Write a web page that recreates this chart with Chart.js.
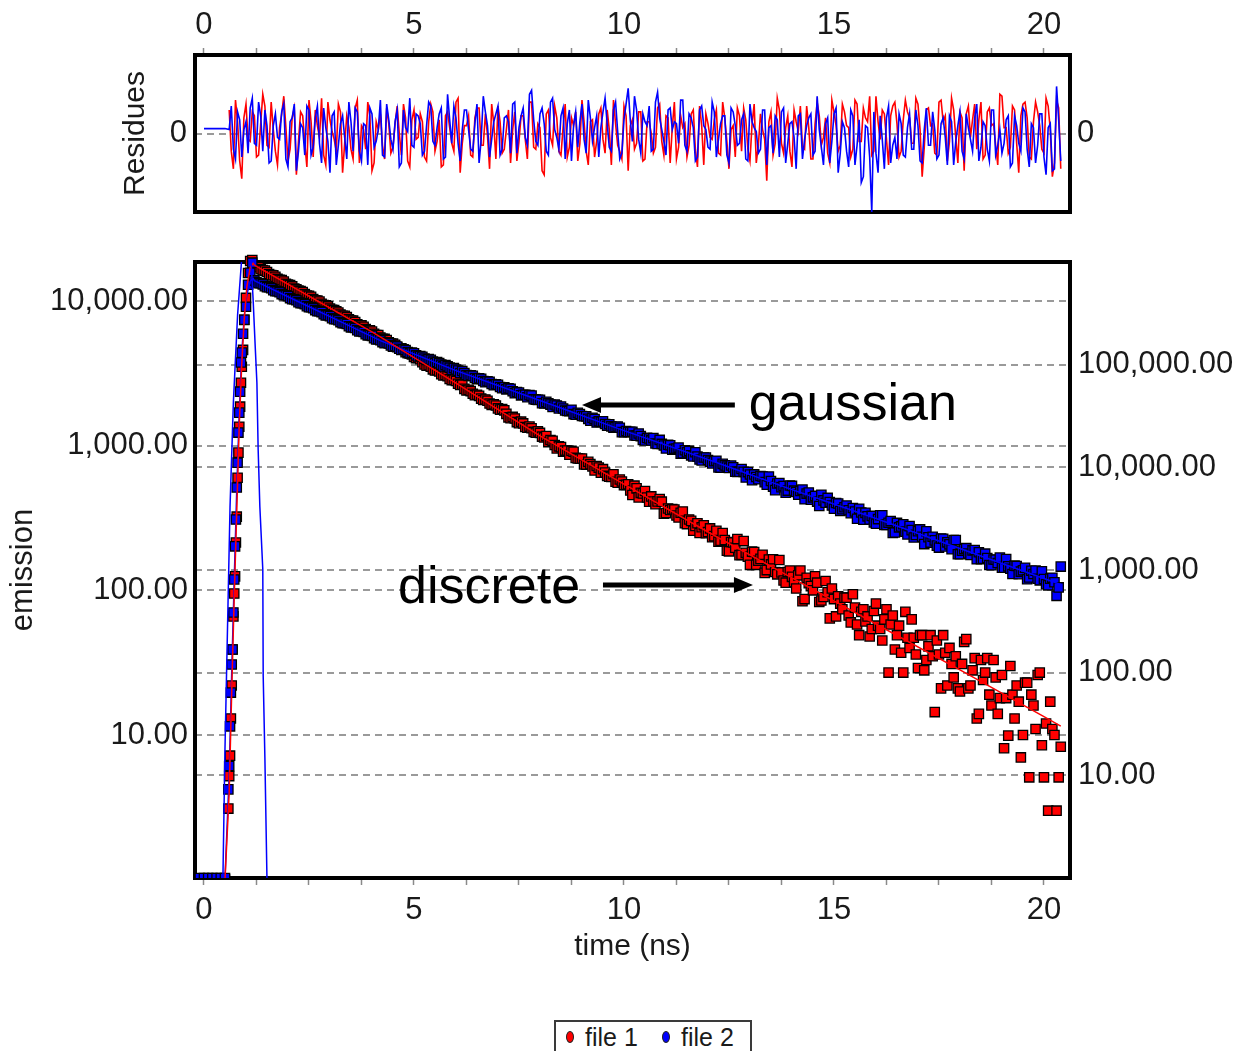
<!DOCTYPE html>
<html>
<head>
<meta charset="utf-8">
<title>emission decay</title>
<script src="https://cdn.jsdelivr.net/npm/chart.js@4.4.1/dist/chart.umd.min.js"></script>
<style>
  html, body { margin: 0; padding: 0; background: #fff; }
  body { position: relative; width: 1234px; height: 1051px; overflow: hidden; font-family: 'Liberation Sans', Arial, sans-serif; }
  canvas { position: absolute; left: 0; }
  #residCanvas { top: 0; }
  #mainCanvas { top: 230px; }
  #legend { position: absolute; left: 554px; top: 1020px; width: 194px; height: 40px; border: 2px solid #3a3a3a; background: #fff; }
  #legend .dot { position: absolute; top: 9px; width: 6px; height: 10px; border-radius: 50%; border: 1px solid #222; }
  #legend .lbl { position: absolute; top: 1px; font-size: 25px; line-height: 29px; color: #1a1a1a; white-space: nowrap; }
</style>
</head>
<body>
<canvas id="residCanvas" width="1234" height="230"></canvas>
<canvas id="mainCanvas" width="1234" height="821"></canvas>
<div id="legend"></div>
<script>
// time axis (ns)
const decayTime = [
  1.2, 1.3, 1.4, 1.5, 1.6, 1.7, 1.8, 1.9, 2.0, 2.1,
  2.2, 2.3, 2.4, 2.5, 2.6, 2.7, 2.8, 2.9, 3.0, 3.1,
  3.2, 3.3, 3.4, 3.5, 3.6, 3.7, 3.8, 3.9, 4.0, 4.1,
  4.2, 4.3, 4.4, 4.5, 4.6, 4.7, 4.8, 4.9, 5.0, 5.1,
  5.2, 5.3, 5.4, 5.5, 5.6, 5.7, 5.8, 5.9, 6.0, 6.1,
  6.2, 6.3, 6.4, 6.5, 6.6, 6.7, 6.8, 6.9, 7.0, 7.1,
  7.2, 7.3, 7.4, 7.5, 7.6, 7.7, 7.8, 7.9, 8.0, 8.1,
  8.2, 8.3, 8.4, 8.5, 8.6, 8.7, 8.8, 8.9, 9.0, 9.1,
  9.2, 9.3, 9.4, 9.5, 9.6, 9.7, 9.8, 9.9, 10.0, 10.1,
  10.2, 10.3, 10.4, 10.5, 10.6, 10.7, 10.8, 10.9, 11.0, 11.1,
  11.2, 11.3, 11.4, 11.5, 11.6, 11.7, 11.8, 11.9, 12.0, 12.1,
  12.2, 12.3, 12.4, 12.5, 12.6, 12.7, 12.8, 12.9, 13.0, 13.1,
  13.2, 13.3, 13.4, 13.5, 13.6, 13.7, 13.8, 13.9, 14.0, 14.1,
  14.2, 14.3, 14.4, 14.5, 14.6, 14.7, 14.8, 14.9, 15.0, 15.1,
  15.2, 15.3, 15.4, 15.5, 15.6, 15.7, 15.8, 15.9, 16.0, 16.1,
  16.2, 16.3, 16.4, 16.5, 16.6, 16.7, 16.8, 16.9, 17.0, 17.1,
  17.2, 17.3, 17.4, 17.5, 17.6, 17.7, 17.8, 17.9, 18.0, 18.1,
  18.2, 18.3, 18.4, 18.5, 18.6, 18.7, 18.8, 18.9, 19.0, 19.1,
  19.2, 19.3, 19.4, 19.5, 19.6, 19.7, 19.8, 19.9, 20.0, 20.1,
  20.2, 20.3, 20.4
];
// in-between channels
const midTime = [
  1.25, 1.35, 1.45, 1.55, 1.65, 1.75, 1.85, 1.95, 2.05, 2.15,
  2.25, 2.35, 2.45, 2.55, 2.65, 2.75, 2.85, 2.95, 3.05, 3.15,
  3.25, 3.35, 3.45, 3.55, 3.65, 3.75, 3.85, 3.95, 4.05, 4.15,
  4.25, 4.35, 4.45, 4.55, 4.65, 4.75, 4.85, 4.95, 5.05, 5.15,
  5.25, 5.35, 5.45, 5.55, 5.65, 5.75, 5.85, 5.95, 6.05, 6.15,
  6.25, 6.35, 6.45, 6.55, 6.65, 6.75, 6.85, 6.95, 7.05, 7.15,
  7.25, 7.35, 7.45, 7.55, 7.65, 7.75, 7.85, 7.95, 8.05, 8.15,
  8.25, 8.35, 8.45, 8.55, 8.65, 8.75, 8.85, 8.95, 9.05, 9.15,
  9.25, 9.35, 9.45, 9.55, 9.65, 9.75, 9.85, 9.95, 10.05, 10.15,
  10.25, 10.35, 10.45, 10.55, 10.65, 10.75, 10.85, 10.95, 11.05, 11.15,
  11.25, 11.35, 11.45, 11.55, 11.65, 11.75, 11.85, 11.95, 12.05, 12.15,
  12.25, 12.35, 12.45, 12.55, 12.65, 12.75, 12.85, 12.95, 13.05, 13.15,
  13.25, 13.35, 13.45, 13.55, 13.65, 13.75, 13.85, 13.95, 14.05, 14.15,
  14.25, 14.35, 14.45, 14.55, 14.65, 14.75, 14.85, 14.95, 15.05, 15.15,
  15.25, 15.35, 15.45, 15.55, 15.65, 15.75, 15.85, 15.95, 16.05, 16.15,
  16.25, 16.35, 16.45, 16.55, 16.65, 16.75, 16.85, 16.95, 17.05, 17.15,
  17.25, 17.35, 17.45, 17.55, 17.65, 17.75, 17.85, 17.95, 18.05, 18.15,
  18.25, 18.35, 18.45, 18.55, 18.65, 18.75, 18.85, 18.95, 19.05, 19.15,
  19.25, 19.35, 19.45, 19.55, 19.65, 19.75, 19.85, 19.95, 20.05, 20.15,
  20.25, 20.35
];
const baseTime = [-0.1, 0.0, 0.1, 0.2, 0.3, 0.4, 0.5];
const riseTime = [0.58, 0.60, 0.62, 0.64, 0.66, 0.68, 0.70, 0.72, 0.74, 0.76, 0.78, 0.80,
  0.82, 0.84, 0.86, 0.88, 0.90, 0.93, 0.96, 1.00, 1.05, 1.10, 1.15];

// counts before the pulse (sit on the bottom of the plot)
const baseCounts = [1, 1, 1, 1, 1, 1, 1];

// file 1 (discrete, red, left axis)
const file1Rise = [3.1, 5.2, 7.2, 13, 22, 39, 66, 95, 125, 214, 323, 600,
  895, 1350, 1860, 2720, 3510, 4590, 7400, 10500, 15600, 18900, 19200];
const file1Decay = [
  17650, 17120, 16330, 15860, 15110, 14700, 14010, 13620, 12970, 12610,
  12050, 11730, 11150, 10860, 10310, 10080, 9560, 9330, 8860, 8640,
  8330, 7910, 7730, 7330, 7160, 6790, 6640, 6280, 6150, 5820,
  5590, 5470, 5170, 5070, 4790, 4700, 4430, 4360, 4100, 4040,
  3780, 3570, 3510, 3310, 3260, 3060, 3020, 2840, 2800, 2630,
  2470, 2430, 2285, 2250, 2115, 2085, 1955, 1930, 1810, 1790,
  1660, 1550, 1540, 1430, 1425, 1330, 1320, 1230, 1225, 1140,
  1059, 1081, 957, 977, 925, 866, 908, 816, 815, 740,
  745, 674, 705, 688, 618, 609, 563, 584, 534, 541,
  456, 507, 472, 486, 410, 411, 412, 410, 342, 359,
  362, 319, 351, 287, 302, 279, 249, 282, 253, 233,
  258, 220, 223, 186, 214, 226, 176, 182, 150, 184,
  160, 176, 138, 151, 134, 162, 117, 134, 124, 103,
  137, 87, 112, 100, 113, 85, 116, 64, 87, 91,
  74, 89, 60, 76, 49, 74, 66, 54, 81, 54,
  63, 27, 67, 49, 37, 71, 40, 47, 29, 49,
  33, 49, 14.4, 36, 49, 22, 31, 35, 20, 44,
  21, 28, 13, 33, 27, 19, 33, 14, 26, 18,
  30, 13, 17, 10, 23, 19, 11, 27, 5.1, 3.0,
  11, 3.0, 8.3
];
const file1Mid = [
  17480, 16560, 16230, 15330, 15040, 14210, 13940, 13160, 12910, 12200,
  11790, 11530, 10920, 10690, 10110, 9900, 9370, 9170, 8680, 8500,
  8060, 7890, 7460, 7310, 6910, 6780, 6400, 6280, 5930, 5810,
  5470, 5370, 5070, 4980, 4690, 4610, 4350, 4270, 4030, 3960,
  3640, 3590, 3370, 3320, 3120, 3080, 2890, 2850, 2680, 2640,
  2410, 2380, 2230, 2210, 2070, 2045, 1915, 1895, 1775, 1755,
  1570, 1580, 1455, 1465, 1345, 1355, 1245, 1255, 1155, 1165,
  1094, 1010, 989, 907, 926, 920, 823, 812, 742, 773,
  719, 724, 650, 652, 610, 634, 554, 565, 536, 490,
  529, 439, 468, 438, 446, 394, 428, 339, 368, 364,
  329, 344, 291, 309, 258, 291, 273, 248, 268, 237,
  217, 249, 188, 216, 197, 175, 219, 171, 185, 150,
  165, 132, 163, 164, 129, 133, 113, 137, 114, 127,
  84, 122, 107, 125, 83, 90, 97, 103, 66, 81,
  89, 67, 94, 58, 71, 61, 48, 72, 57, 45,
  74, 58, 39, 57, 27, 47, 63, 36, 49, 28,
  41, 35, 45, 21, 37, 40, 25, 21, 31, 46,
  22, 34, 14, 24, 34, 16, 25, 18, 8.1, 9.9,
  19, 22, 7.0, 23, 5.1, 16, 26, 8.5, 12, 17,
  10, 5.1
];

// file 2 (gaussian, blue, right axis)
const file2Rise = [7.3, 12.3, 30, 64, 120, 168, 386, 809, 1700, 3100, 6360, 11100,
  21800, 34100, 54600, 105000, 131000, 200000, 274000, 367000, 600000, 786000, 985000];
const file2Decay = [
  662000, 621000, 606000, 569000, 555000, 519000, 508000, 475000, 465000, 434000,
  424000, 396000, 388000, 362000, 355000, 331000, 325000, 302000, 297000, 277000,
  271000, 253000, 249000, 231000, 228000, 211000, 208000, 193000, 191000, 176000,
  173000, 162000, 161000, 150000, 150000, 139000, 139000, 129000, 129000, 120000,
  119500, 111500, 111500, 103500, 103500, 96200, 96500, 89300, 89800, 83000,
  83000, 77500, 77800, 72400, 72800, 67600, 68200, 63200, 63800, 59100,
  57490, 58270, 52720, 53430, 50950, 48190, 49930, 45680, 45530, 42020,
  42120, 38750, 40040, 39150, 35810, 35300, 33030, 33940, 31650, 31380,
  28480, 29500, 28050, 28040, 25440, 25080, 24730, 24310, 21940, 22110,
  22240, 20350, 20150, 18270, 19110, 19270, 16920, 16900, 15260, 16410,
  15160, 15570, 13730, 14040, 13090, 14010, 11910, 12460, 11780, 10930,
  11590, 9947, 10450, 9881, 10010, 9035, 9625, 7962, 8520, 8532,
  7649, 8150, 6769, 7369, 5996, 7039, 6576, 5937, 6592, 5750,
  5877, 4883, 5692, 5104, 4638, 5406, 4523, 4592, 3949, 4447,
  3905, 4248, 3578, 3709, 3953, 3086, 3334, 3362, 2825, 3410,
  2742, 2882, 2297, 2876, 2657, 2365, 2676, 2075, 2390, 2109,
  2386, 1850, 1944, 1653, 2013, 1859, 1596, 1961, 1426, 1598,
  1449, 1551, 1271, 1276, 1443, 1119, 1266, 1169, 1051, 1280,
  1029, 1102, 911, 994, 814, 983, 986, 793, 818, 709,
  840, 560, 1080
];
const file2Mid = [
  637000, 621000, 582000, 568000, 532000, 519000, 487000, 475000, 445000, 434000,
  406000, 397000, 371000, 363000, 340000, 332000, 310000, 303000, 284000, 277000,
  260000, 254000, 237000, 232000, 217000, 212000, 198000, 194000, 181000, 177000,
  166000, 164000, 154000, 152000, 143000, 141000, 133000, 131000, 123000, 121500,
  114500, 113500, 107000, 106000, 100000, 99200, 93500, 92700, 87500, 86700,
  79300, 78800, 74100, 73700, 69300, 68900, 64800, 64400, 60600, 60200,
  58930, 55120, 54040, 50270, 50940, 50500, 46070, 45430, 42140, 43420,
  40840, 40930, 37460, 37440, 35410, 36380, 32560, 33000, 31470, 29690,
  30340, 27300, 27750, 26460, 26300, 24400, 25000, 22010, 22560, 22120,
  20410, 21350, 18490, 19340, 18290, 17050, 18500, 16320, 16610, 14850,
  15260, 13580, 14670, 14450, 12750, 12740, 11660, 12480, 11370, 11470,
  9975, 10820, 10190, 10410, 9060, 9050, 9041, 8989, 7505, 8051,
  8231, 7176, 8138, 6486, 6960, 6414, 5672, 6656, 5927, 5424,
  6066, 5552, 4842, 5267, 4200, 4760, 5037, 4244, 4491, 3756,
  4087, 3818, 4014, 3155, 3627, 3606, 3102, 2899, 3132, 3415,
  2747, 2995, 2323, 2603, 2787, 2222, 2445, 2197, 2485, 1789,
  2082, 2108, 1728, 2028, 1693, 1779, 1957, 1423, 1538, 1631,
  1399, 1568, 1489, 1290, 1307, 1111, 1257, 1320, 1053, 1086,
  915, 1094, 965, 1052, 846, 914, 822, 973, 728, 823,
  760, 677
];

// fitted curves
const fit1Time = [0.50, 0.60, 0.66, 0.72, 0.78, 0.84, 0.90, 0.96, 1.02, 1.10, 1.17, 1.2,
  4.0, 6.0, 8.0, 10.0, 12.0, 14.0, 16.0, 18.0, 20.0, 20.4];
const fit1Counts = [1, 4, 20, 90, 350, 1400, 3700, 7600, 12500, 17000, 18200, 17700,
  6110, 2710, 1167, 543, 253, 122, 58.5, 28.2, 13.4, 11.5];
const fit2Time = [0.50, 0.60, 0.66, 0.72, 0.78, 0.84, 0.90, 0.96, 1.02, 1.10, 1.17, 1.2,
  2.2, 3.2, 4.2, 6.0, 8.0, 10.0, 12.0, 14.0, 16.0, 18.0, 20.0, 20.4];
const fit2Counts = [1, 10, 100, 800, 6000, 34000, 130000, 300000, 480000, 650000, 690000, 657700,
  419800, 268500, 171400, 87500, 44700, 22800, 11900, 6070, 3170, 1620, 826, 723];

// instrument response (thin blue pulse)
const irfTime = [0.45, 0.50, 0.55, 0.62, 0.70, 0.80, 0.90, 0.98, 1.10, 1.17, 1.22, 1.26,
  1.29, 1.33, 1.40, 1.41, 1.45, 1.50];
const irfCounts = [1, 8, 40, 377, 2000, 8000, 20000, 30000, 25000, 10200, 4820, 2720,
  938, 380, 140, 25.5, 7.0, 1];

// residues
const residTime = [0.0, 0.5, 0.6, 0.7, 0.8, 0.9, 1.0, 1.1].concat(decayTime);
const residMidTime = [0.65, 0.75, 0.85, 0.95, 1.05, 1.15].concat(midTime);
const resid1 = [null, null,
  1.2, -1.8, 0.6, -2.3, 1.5, -0.4, 0.9, -1.1, 2.0, -0.6,
  1.6, -0.9, 0.3, 1.9, -1.4, 0.8, -2.1, 1.1, -0.5, 1.7,
  -1.2, 0.4, 1.8, -1.6, 0.7, -0.3, 1.5, -2.0, 0.9, -0.8,
  1.3, -1.5, 0.2, 1.6, -1.9, 0.6, 1.0, -1.3, 0.5, -0.7,
  1.4, -1.1, 0.8, -1.7, 1.2, -0.2, 0.6, -1.4, 1.5, -0.9,
  0.7, -1.6, 1.1, -0.5, 1.6, -2.0, 0.4, 0.9, -1.2, 1.3,
  -0.6, 1.0, -1.8, 0.5, 1.4, -1.0, 0.2, -1.5, 1.1, -0.4,
  0.9, -1.3, 1.6, -0.8, 0.3, -2.1, 1.2, -0.6, 0.8, -1.1,
  1.5, -0.7, 0.4, -1.4, 1.7, -0.9, 0.6, -1.2, 1.0, -0.3,
  1.2, -1.6, 0.5, -0.9, 1.4, -1.9, 0.7, -0.5, 1.1, -1.3,
  0.6, -1.0, 1.3, -0.4, 0.9, -1.5, 1.6, -0.7, 0.3, -1.2,
  1.0, -0.8, 1.4, -1.6, 0.5, -0.3, 1.2, -1.1, 0.8, -1.8,
  0.4, 1.3, -0.9, 0.7, -1.4, 1.5, -0.6, 0.2, -2.4, 1.1,
  -0.5, 1.2, -1.0, 0.9, -1.7, 0.6, 1.4, -0.8, 0.3, -1.3,
  1.6, -0.6, 0.8, -1.5, 1.1, -0.9, 1.5, 0.4, -1.2, 1.7,
  -0.4, 1.3, 0.6, -1.1, 1.9, -0.3, 1.0, -1.6, 1.4, 0.5,
  -0.9, 1.7, 0.8, -0.5, 1.5, -2.2, 1.2, 0.4, -1.0, 1.6,
  0.6, -1.4, 1.8, -0.2, 1.1, -1.9, 1.4, 0.7, -0.8, 1.6,
  -1.1, 1.3, 0.5, -1.6, 1.9, 0.3, -0.7, 1.2, -2.0, 1.5,
  0.8, -1.3, 1.6, 0.4, -1.0, 1.4, -2.2, 1.7, -1.8
];
const resid1Mid = [
  -0.9, 1.7, -1.4, 0.8, -0.3, 1.1,
  -1.2, 0.5, 1.4, -0.7, 0.2, -1.6, 1.0, 0.3, -0.8, 1.3,
  -0.4, 0.9, -1.7, 0.6, 1.2, -0.2, -1.1, 1.6, 0.1, -0.9,
  1.1, -0.5, 0.3, -1.3, 1.7, 0.4, -0.8, 0.9, -1.5, 0.2,
  -0.6, 1.3, -1.0, 0.5, 0.0, 1.5, -1.4, 0.7, -0.3, 1.0,
  -1.2, 0.6, 1.1, -0.4, -1.7, 0.9, 0.3, -0.9, 1.8, -0.5,
  0.4, -1.1, 0.8, 1.3, -0.6, -0.1, 1.5, -1.3, 0.6, -0.8,
  1.2, 0.2, -1.4, 0.9, -0.3, 1.6, -0.7, 0.5, -1.9, 1.0,
  -0.2, 1.4, -0.9, 0.3, -1.2, 0.8, 1.1, -0.5, 0.6, -1.6,
  0.7, -0.4, 1.3, -1.0, 0.2, 1.7, -0.6, -1.3, 0.9, 0.4,
  -0.8, 1.1, -1.4, 0.6, 0.0, -0.7, 1.5, -1.1, 0.8, 0.3,
  -1.3, 0.9, 0.5, -0.6, 1.2, -1.7, 0.4, 1.0, -0.2, 0.7,
  -1.0, 1.6, -0.4, 0.2, -1.2, 0.9, 1.3, -0.8, 0.5, -1.5,
  1.0, -0.3, 0.6, -1.1, 1.8, -0.5, 0.3, -0.9, 1.2, 0.1,
  -0.7, 1.4, -1.3, 0.5, 0.9, -0.2, -1.0, 1.7, 0.4, -0.6,
  1.1, 0.3, -0.8, 1.5, -0.4, 0.8, 1.9, -0.9, 0.6, 1.2,
  -0.3, 0.9, 1.6, -1.2, 0.7, 1.1, -0.5, 1.8, 0.2, -0.7,
  1.3, 0.5, -1.1, 1.7, 0.9, -0.4, 1.2, -1.5, 0.8, 1.0,
  -0.2, 1.5, 0.7, -1.3, 1.1, 0.4, -0.6, 2.0, 0.3, -1.0,
  1.4, -0.5, 0.9, 1.6, -1.2, 0.6, 1.1, -0.8, 1.8, 0.2,
  -1.5, 1.3
];
const resid2 = [0.25, 0.25,
  0.2, -0.8, 1.1, -1.2, 0.6, 1.3, -0.5, 1.6, -0.9, 0.4,
  -1.4, 1.0, -0.3, 1.5, -1.7, 0.8, -1.9, 0.5, -1.1, 1.2,
  -0.7, 1.4, -1.5, 0.3, -2.0, 1.1, -0.6, 0.9, -1.3, 0.6,
  1.3, -0.9, 0.5, -1.6, 1.0, -0.4, 1.7, -1.2, 0.7, -0.8,
  1.2, -1.5, 0.3, 1.8, -0.7, 0.9, -1.1, 0.4, 1.4, -0.6,
  1.0, -1.3, 2.0, -0.5, 0.8, -1.4, 1.2, 0.2, -0.9, 1.5,
  -0.3, 1.1, -1.2, 0.6, 1.4, -0.8, 0.9, -1.0, 1.6, 0.3,
  1.3, -0.6, 2.2, -0.4, 1.0, 0.5, -1.1, 1.8, -0.2, 0.9,
  -1.3, 1.2, 0.4, -0.7, 1.5, -1.0, 0.8, 0.3, -1.2, 1.1,
  0.5, -0.9, 1.6, -1.3, 0.7, 2.3, -0.4, 1.2, -1.0, 0.6,
  1.4, -0.8, 2.1, 0.2, -1.1, 1.3, 0.6, -0.5, 1.7, -0.9,
  0.8, -1.4, 1.2, 0.4, -0.7, 1.6, -1.2, 0.5, 0.9, -1.5,
  1.1, -0.6, 0.7, -1.3, 1.5, 0.3, -1.0, 1.2, -1.6, 0.4,
  0.9, -1.2, 1.3, -0.5, 0.6, -1.8, 1.0, -0.3, 0.8, -1.1,
  1.9, -0.7, 0.5, -1.5, 1.0, -2.0, 0.6, -0.9, 1.2, -1.6,
  0.7, -2.2, 0.3, -4.0, -1.0, 0.9, -1.8, 1.4, -0.6, -1.3,
  0.5, -1.2, 1.0, -0.8, 0.4, -1.5, 1.3, -0.6, 0.2, -1.1,
  0.8, -1.6, 0.6, -0.4, 1.1, -1.3, 0.3, -0.9, 1.5, -0.7,
  0.4, -1.4, 1.2, -0.6, -1.0, 0.7, -1.7, 0.9, -0.5, 1.3,
  -0.8, 0.5, -1.5, 1.0, -1.2, 0.3, -1.9, 2.4, -1.4
];
const resid2Mid = [
  1.4, -1.3, 0.7, 0.2, -1.0, 1.8,
  -0.6, 0.9, 1.2, -1.5, 0.4, -0.2, 1.1, -1.3, 0.6, 1.5,
  -0.9, 0.3, 1.4, -1.1, 0.8, -0.5, 1.3, -0.4, 0.9, -1.6,
  0.5, -0.2, 1.6, -0.9, 1.1, -1.4, 0.4, 1.3, -0.7, 0.2,
  -1.1, 1.5, -0.3, 0.6, -1.7, 1.2, 0.1, -0.6, 1.0, 0.5,
  -0.9, 1.6, -0.4, 0.3, 1.3, -1.2, 0.7, 1.4, -0.5, 0.2,
  1.2, -0.8, 0.5, -1.5, 1.9, 0.4, -0.3, 1.0, -1.1, 0.8,
  0.6, 1.5, -1.0, 0.9, -0.2, 2.0, 0.7, -0.6, 1.3, -0.9,
  1.6, 0.2, -0.8, 1.3, 0.5, -1.4, 1.1, 0.6, -0.3, 1.7,
  -0.4, 0.9, 0.3, 1.8, -0.7, 1.2, 0.1, -1.0, 1.5, 0.7,
  1.9, -0.3, 1.0, 0.4, -0.9, 1.6, 0.8, -0.4, 1.2, 0.2,
  0.5, 1.7, -0.6, 1.0, 0.3, -1.2, 1.4, 0.2, -0.8, 1.1,
  -0.3, 0.9, -1.1, 1.3, 0.4, -0.5, 1.0, -1.4, 0.6, 0.1,
  -0.8, 1.2, 0.3, -1.0, 0.7, 1.1, -1.5, 0.5, -0.2, 0.9,
  -1.3, 0.4, 1.0, -0.9, 0.2, -1.6, 0.8, -0.4, 1.3, -1.0,
  0.3, -1.7, 0.9, -0.6, -2.5, 0.4, -1.2, 1.1, -2.0, -0.3,
  0.8, -1.5, -0.2, 1.0, -1.1, 0.3, -0.8, 1.2, -1.4, 0.2,
  -0.6, 1.1, -1.3, 0.5, -0.2, 0.9, -1.6, 0.4, -0.9, 1.0,
  -0.3, 0.8, -1.4, 0.6, -0.8, 1.2, -1.1, 0.2, -0.5, 0.9,
  -1.5, 0.4, -0.9, 1.1, -1.7, 0.3, -0.6, 1.0, -2.1, 0.5,
  -1.8, 0.7
];

// ticks
const timeTicks = [0, 1.25, 2.5, 3.75, 5, 6.25, 7.5, 8.75, 10, 11.25, 12.5, 13.75, 15, 16.25, 17.5, 18.75, 20];
const leftTicks = [10, 100, 1000, 10000];
const rightTicks = [10, 100, 1000, 10000, 100000];
const residTicks = [0];

// arrows + notes, in data units of the left axis
const callouts = [
  { text: 'gaussian', at: [12.97, 1504], from: [12.64, 1910], to: [9.0, 1910] },
  { text: 'discrete', at: [4.62, 81.8], from: [9.5, 108.9], to: [13.07, 108.9] }
];

const FONT = "'Liberation Sans', Arial, sans-serif";
const TEXT = '#1a1a1a';
Chart.defaults.font.family = FONT;

const pairs = (xs, ys) => xs.map((x, i) => ({ x: x, y: ys[i] })).filter(p => p.y != null);
const byTime = (a, b) => a.x - b.x;
const fmt2 = v => {
  const parts = Number(v).toFixed(2).split('.');
  return parts[0].replace(/\B(?=(\d{3})+(?!\d))/g, ',') + '.' + parts[1];
};
const setTicks = list => scale => { scale.ticks = list.map(v => ({ value: v })); };
// fixed axis thickness, no extra edge padding asked from the layout
const fixWidth = w => s => { s.width = w; s.paddingTop = 0; s.paddingBottom = 0; };
const fixHeight = h => s => { s.height = h; s.paddingLeft = 0; s.paddingRight = 0; };

const frameBox = {
  id: 'frameBox',
  beforeDatasetsDraw(chart) {
    const { ctx, chartArea: a } = chart;
    ctx.save();
    ctx.lineWidth = 4;
    ctx.strokeStyle = '#000';
    ctx.strokeRect(a.left, a.top, a.right - a.left, a.bottom - a.top);
    ctx.restore();
  }
};

const calloutPlugin = {
  id: 'callouts',
  afterDatasetsDraw(chart) {
    const { ctx } = chart;
    const x = chart.scales.x, y = chart.scales.y;
    ctx.save();
    ctx.fillStyle = '#000';
    ctx.strokeStyle = '#000';
    ctx.font = '52px ' + FONT;
    ctx.textBaseline = 'alphabetic';
    callouts.forEach(c => {
      ctx.fillText(c.text, x.getPixelForValue(c.at[0]), y.getPixelForValue(c.at[1]));
      const x1 = x.getPixelForValue(c.from[0]), y1 = y.getPixelForValue(c.from[1]);
      const x2 = x.getPixelForValue(c.to[0]), y2 = y.getPixelForValue(c.to[1]);
      const dir = Math.sign(x2 - x1);
      ctx.lineWidth = 5;
      ctx.beginPath();
      ctx.moveTo(x1, y1);
      ctx.lineTo(x2 - dir * 16, y2);
      ctx.stroke();
      ctx.beginPath();
      ctx.moveTo(x2, y2);
      ctx.lineTo(x2 - dir * 19, y2 - 8);
      ctx.lineTo(x2 - dir * 19, y2 + 8);
      ctx.closePath();
      ctx.fill();
    });
    ctx.restore();
  }
};

const X_MIN = -0.214, X_MAX = 20.62;
const tickFont = { size: 31 };
const titleFont = { size: 30 };

const timeAxis = (position, height, padding) => ({
  type: 'linear',
  position: position,
  min: X_MIN,
  max: X_MAX,
  afterFit: fixHeight(height),
  afterBuildTicks: setTicks(timeTicks),
  ticks: {
    callback: v => (v % 5 === 0 ? String(v) : ''),
    font: tickFont, color: TEXT, padding: padding, autoSkip: false, maxRotation: 0
  },
  grid: { drawOnChartArea: false, drawTicks: true, tickLength: 7, tickColor: '#8a8a8a', tickWidth: 1.5 },
  border: { display: false }
});

// residues panel
new Chart(document.getElementById('residCanvas'), {
  type: 'scatter',
  data: {
    datasets: [
      { label: 'file 2', data: pairs(residTime, resid2).concat(pairs(residMidTime, resid2Mid)).sort(byTime),
        showLine: true, borderColor: '#0000ff', borderWidth: 1.6, pointRadius: 0, order: 0 },
      { label: 'file 1', data: pairs(residTime, resid1).concat(pairs(residMidTime, resid1Mid)).sort(byTime),
        showLine: true, borderColor: '#ff0000', borderWidth: 1.6, pointRadius: 0, order: 1 }
    ]
  },
  options: {
    responsive: false,
    animation: false,
    events: [],
    layout: { padding: { top: 0, bottom: 18, left: 0, right: 0 } },
    plugins: { legend: { display: false }, tooltip: { enabled: false } },
    scales: {
      x: timeAxis('top', 55, 4),
      y: {
        type: 'linear', min: -4, max: 4,
        afterFit: fixWidth(195),
        afterBuildTicks: setTicks(residTicks),
        ticks: { font: tickFont, color: TEXT, padding: 8 },
        grid: { color: '#9a9a9a', lineWidth: 2, drawTicks: false },
        border: { display: false, dash: [7, 5] },
        title: { display: true, text: 'Residues', font: titleFont, color: TEXT, padding: { top: 118, bottom: 0 } }
      },
      y2: {
        type: 'linear', position: 'right', min: -4, max: 4,
        afterFit: fixWidth(164),
        afterBuildTicks: setTicks(residTicks),
        ticks: { font: tickFont, color: TEXT, padding: 7 },
        grid: { drawOnChartArea: false, drawTicks: false },
        border: { display: false }
      }
    }
  },
  plugins: [frameBox]
});

// main decay panel
const pointLook = {
  showLine: false, pointStyle: 'rect', pointRadius: 6.6,
  pointBorderColor: '#000', pointBorderWidth: 1.3,
  clip: { left: 8, top: 14, right: 8, bottom: 0 }
};
const file1Points = Object.assign({
  label: 'file 1', yAxisID: 'y', order: 3, pointBackgroundColor: '#ff0000', legendColor: '#ff0000',
  data: pairs(baseTime.concat(riseTime, decayTime), baseCounts.concat(file1Rise, file1Decay))
    .concat(pairs(midTime, file1Mid)).sort(byTime)
}, pointLook);
const file2Points = Object.assign({
  label: 'file 2', yAxisID: 'y2', order: 2, pointBackgroundColor: '#0000ff', legendColor: '#0000ff',
  data: pairs(baseTime.concat(riseTime, decayTime), baseCounts.concat(file2Rise, file2Decay))
    .concat(pairs(midTime, file2Mid)).sort(byTime)
}, pointLook);

new Chart(document.getElementById('mainCanvas'), {
  type: 'scatter',
  data: {
    datasets: [
      { label: 'irf', data: pairs(irfTime, irfCounts), yAxisID: 'y', showLine: true,
        borderColor: '#0000ff', borderWidth: 1.5, pointRadius: 0, order: 0 },
      { label: 'fit 1', data: pairs(fit1Time, fit1Counts), yAxisID: 'y', showLine: true,
        borderColor: '#ff0000', borderWidth: 1.5, pointRadius: 0, order: 1 },
      { label: 'fit 2', data: pairs(fit2Time, fit2Counts), yAxisID: 'y2', showLine: true,
        borderColor: '#0000ff', borderWidth: 1.5, pointRadius: 0, order: 1 },
      file2Points,
      file1Points
    ]
  },
  options: {
    responsive: false,
    animation: false,
    events: [],
    layout: { padding: { top: 32, bottom: 86, left: 0, right: 0 } },
    plugins: { legend: { display: false }, tooltip: { enabled: false } },
    scales: {
      x: Object.assign(timeAxis('bottom', 87, 7), {
        title: { display: true, text: 'time (ns)', font: titleFont, color: TEXT, padding: { top: 0, bottom: 0 } }
      }),
      y: {
        type: 'logarithmic', min: 1.027, max: 18600,
        afterFit: fixWidth(195),
        afterBuildTicks: setTicks(leftTicks),
        ticks: { callback: fmt2, font: tickFont, color: TEXT, padding: 7 },
        grid: { color: '#9a9a9a', lineWidth: 2, drawTicks: false },
        border: { display: false, dash: [7, 5] },
        title: { display: true, text: 'emission', font: { size: 31 }, color: TEXT, padding: { top: 5, bottom: 0 } }
      },
      y2: {
        type: 'logarithmic', position: 'right', min: 1, max: 1000000,
        afterFit: fixWidth(164),
        afterBuildTicks: setTicks(rightTicks),
        ticks: { callback: fmt2, font: tickFont, color: TEXT, padding: 8 },
        grid: { color: '#9a9a9a', lineWidth: 2, drawTicks: false },
        border: { display: false, dash: [7, 5] }
      }
    }
  },
  plugins: [frameBox, calloutPlugin]
});

// legend box under the plot, built from the point datasets
const legendBox = document.getElementById('legend');
[file1Points, file2Points].forEach((ds, i) => {
  const dot = document.createElement('span');
  dot.className = 'dot';
  dot.style.left = (10 + i * 96) + 'px';
  dot.style.background = ds.legendColor;
  const lbl = document.createElement('span');
  lbl.className = 'lbl';
  lbl.style.left = (29 + i * 96) + 'px';
  lbl.textContent = ds.label;
  legendBox.appendChild(dot);
  legendBox.appendChild(lbl);
});
</script>
</body>
</html>
